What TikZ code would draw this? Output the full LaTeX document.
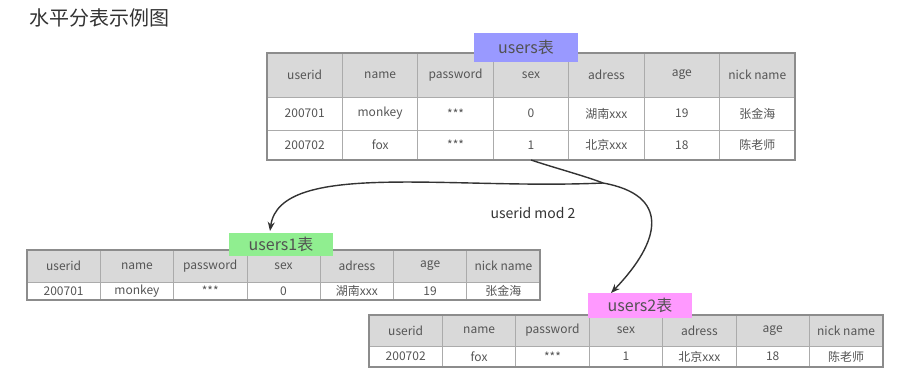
\documentclass[tikz,border=0pt]{standalone}
\usepackage{fontspec}
\setmainfont{Noto Sans CJK SC}
\usetikzlibrary{arrows.meta, positioning}
\definecolor{gridgray}{HTML}{ABABAB}
\definecolor{framegray}{HTML}{8C8C8C}
\definecolor{headgray}{HTML}{D9D9D9}
\definecolor{textgray}{HTML}{555555}
\definecolor{linkgray}{HTML}{333333}
\definecolor{tagblue}{HTML}{9999FF}
\definecolor{taggreen}{HTML}{90EE90}
\definecolor{tagpink}{HTML}{FF99FF}

\begin{document}
\begin{tikzpicture}[
    x=1pt, y=-1pt,
    every node/.style={font=\fontsize{12}{14}\selectfont, text=textgray},
    cell/.style={draw=gridgray, line width=0.8pt, inner sep=0pt, outer sep=0pt, anchor=north west, fill=white},
    hcell/.style={cell, fill=headgray},
    frame/.style={draw=framegray, line width=1.5pt},
    tag/.style={inner sep=0pt, outer sep=0pt, minimum width=104pt, font=\fontsize{16}{18}\selectfont, text=linkgray!85},
    link/.style={draw=linkgray, line width=1.4pt},
    arrow/.style={link, -{Stealth[length=9pt, width=7pt]}}
]
    \useasboundingbox (0,0) rectangle (906,380);

    \node[anchor=west, font=\fontsize{20}{24}\selectfont, text=linkgray] (title) at (26,18) {水平分表示例图};

    % users table
    \foreach \txt [count=\i from 0] in {userid,name,password,sex,adress,age,nick name}
        \node[hcell, minimum width=75.43pt, minimum height=44pt] (ah\i) at (267+\i*75.43,53) {\txt};
    \foreach \txt [count=\i from 0] in {200701,monkey,***,0,湖南xxx,19,张金海}
        \node[cell, minimum width=75.43pt, minimum height=33pt] (ar1c\i) at (267+\i*75.43,97) {\txt};
    \foreach \txt [count=\i from 0] in {200702,fox,***,1,北京xxx,18,陈老师}
        \node[cell, minimum width=75.43pt, minimum height=30pt] (ar2c\i) at (267+\i*75.43,130) {\txt};
    \draw[frame] (ah0.north west) rectangle (ar2c6.south east);

    % users1 table
    \foreach \txt [count=\i from 0] in {userid,name,password,sex,adress,age,nick name}
        \node[hcell, minimum width=73.3pt, minimum height=32pt] (bh\i) at (27+\i*73.3,250) {\txt};
    \foreach \txt [count=\i from 0] in {200701,monkey,***,0,湖南xxx,19,张金海}
        \node[cell, minimum width=73.3pt, minimum height=18pt] (br1c\i) at (27+\i*73.3,282) {\txt};
    \draw[frame] (bh0.north west) rectangle (br1c6.south east);

    % users2 table
    \foreach \txt [count=\i from 0] in {userid,name,password,sex,adress,age,nick name}
        \node[hcell, minimum width=73.4pt, minimum height=31pt] (ch\i) at (369+\i*73.4,315) {\txt};
    \foreach \txt [count=\i from 0] in {200702,fox,***,1,北京xxx,18,陈老师}
        \node[cell, minimum width=73.4pt, minimum height=21pt] (cr1c\i) at (369+\i*73.4,346) {\txt};
    \draw[frame] (ch0.north west) rectangle (cr1c6.south east);

    % table tags
    \node[tag, fill=tagblue, minimum height=29pt] (taga) at (526,47) {users表};
    \node[tag, fill=taggreen, minimum height=23pt] (tagb) at (281,244) {users1表};
    \node[tag, fill=tagpink, minimum height=25pt] (tagc) at (640,305) {users2表};

    % split by userid
    \coordinate (split) at (603,183);
    \coordinate (tipb) at (270,231);
    \coordinate (tipc) at (611,293);
    \draw[link] (ar2c3.south) .. controls (555,168) and (585,176) .. (split);
    \draw[arrow] (split) .. controls (450,190) and (280,160) .. (tipb);
    \draw[arrow] (split) .. controls (670,195) and (662,240) .. (tipc);

    \node[font=\fontsize{14}{16}\selectfont, text=linkgray] (rule) at (533,213) {userid mod 2};
\end{tikzpicture}
\end{document}
